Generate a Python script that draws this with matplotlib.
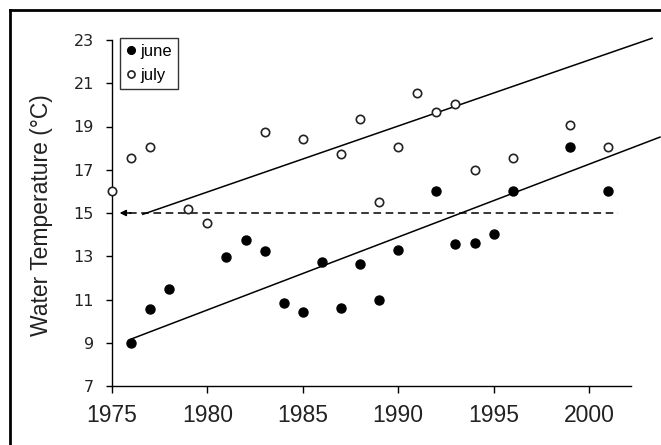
import matplotlib
matplotlib.use("Agg")
import matplotlib.pyplot as plt
from matplotlib.lines import Line2D
from matplotlib import font_manager

# ---- data ----
june_years = [1976, 1977, 1978, 1981, 1982, 1983, 1984, 1985, 1986, 1987, 1988,
              1989, 1990, 1992, 1993, 1994, 1995, 1996, 1999, 2001]
june_temps = [9.0, 10.55, 11.5, 12.95, 13.75, 13.25, 10.85, 10.4, 12.75, 10.6, 12.65,
              11.0, 13.3, 16.0, 13.55, 13.6, 14.05, 16.0, 18.05, 16.0]
july_years = [1975, 1976, 1977, 1979, 1980, 1983, 1985, 1987, 1988, 1989, 1990,
              1991, 1992, 1993, 1994, 1996, 1999, 2001]
july_temps = [16.0, 17.55, 18.05, 15.2, 14.55, 18.75, 18.4, 17.75, 19.35, 15.5, 18.05,
              20.55, 19.65, 20.05, 17.0, 17.55, 19.05, 18.05]
june_fit_x = [1976.03, 2003.72]
june_fit_y = [9.18, 18.51]
july_fit_x = [1976.62, 2003.30]
july_fit_y = [14.94, 23.08]
ref_x = [1975.4, 2001.5]
ref_y = [15, 15]
xticks = [1975, 1980, 1985, 1990, 1995, 2000]
yticks = [7, 9, 11, 13, 15, 17, 19, 21, 23]

avail = {f.name for f in font_manager.fontManager.ttflist}
narrow = "Liberation Sans Narrow" if "Liberation Sans Narrow" in avail else "Liberation Sans"

W, H = 661, 445
fig = plt.figure(figsize=(W / 100, H / 100), dpi=100)
ax = fig.add_axes([112 / W, 1 - 386 / H, (631 - 112) / W, (386 - 40) / H])

ax.plot(july_fit_x, july_fit_y, color="black", lw=1.1, clip_on=False, zorder=2)
ax.plot(june_fit_x, june_fit_y, color="black", lw=1.1, clip_on=False, zorder=2)

ax.plot([ref_x[0] + 0.5, ref_x[1]], ref_y, color="black", lw=1.1, dashes=(5, 3), zorder=2)
ax.annotate("", xy=(ref_x[0], ref_y[0]), xytext=(ref_x[0] + 0.6, ref_y[0]),
            arrowprops=dict(arrowstyle="-|>", color="black", lw=1.1,
                            mutation_scale=9, shrinkA=0, shrinkB=0))

ax.plot(june_years, june_temps, "o", color="black", ms=6.5, ls="none",
        label="june", clip_on=False, zorder=3)
ax.plot(july_years, july_temps, "o", mfc="white", mec="#222222", mew=1.2, ms=6,
        ls="none", label="july", clip_on=False, zorder=3)

ax.set_xlim(1975, 2002.2)
ax.set_ylim(7, 23)
ax.set_xticks(xticks)
ax.set_yticks(yticks)
for s in ["top", "right"]:
    ax.spines[s].set_visible(False)
for s in ["left", "bottom"]:
    ax.spines[s].set_linewidth(1.0)

ax.tick_params(axis="x", direction="out", length=5, width=1.0, pad=8,
               labelsize=16.5, labelcolor="#222222")
ax.tick_params(axis="y", direction="out", length=4, width=1.0, pad=9,
               labelsize=11.5, labelcolor="#222222")
for lab in ax.get_xticklabels():
    lab.set_fontfamily(narrow)
for lab in ax.get_yticklabels():
    lab.set_fontfamily("DejaVu Sans")

fig.text(42 / W, 1 - 215 / H, "Water Temperature (°C)", rotation=90,
         ha="center", va="center", fontsize=16.5, family="Liberation Sans",
         color="#222222")

leg = ax.legend(loc="upper left", bbox_to_anchor=((120 - 112) / 519, (386 - 38) / 346),
                borderaxespad=0, frameon=True, fancybox=False, edgecolor="black",
                handlelength=0.5, handletextpad=0.35, borderpad=0.38, labelspacing=0.5,
                prop={"family": narrow, "size": 12}, markerscale=0.85)
leg.get_frame().set_linewidth(1.0)

# outer frame (partially cropped in the reference)
fig.add_artist(Line2D([10 / W, 10 / W], [0, 1 - 10 / H], transform=fig.transFigure,
                      color="black", lw=2))
fig.add_artist(Line2D([10 / W, 1], [1 - 10 / H, 1 - 10 / H], transform=fig.transFigure,
                      color="black", lw=2))

fig.savefig("out.png", dpi=100)
